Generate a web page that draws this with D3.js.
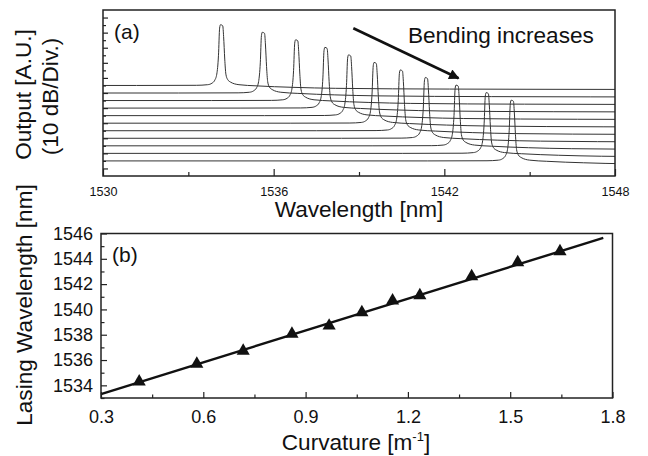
<!DOCTYPE html>
<html>
<head>
<meta charset="utf-8">
<script src="https://cdn.jsdelivr.net/npm/d3@7"></script>
<style>
  html, body { margin: 0; padding: 0; background: #fff; }
  svg { display: block; font-family: "Liberation Sans", Arial, sans-serif; }
  .tick line { stroke: #222; stroke-width: 1.2; }
  .tick text { fill: #111; }
</style>
</head>
<body>
<svg id="chart" width="648" height="456"></svg>
<script>
// ---- panel (a): spectra ----
const peakWavelengths = [1534.18, 1535.65, 1536.82, 1537.85, 1538.68, 1539.58, 1540.50, 1541.38, 1542.46, 1543.52, 1544.40];
const traceBaselines = [12, 11, 10, 9, 8, 7, 6, 5, 4, 3, 2]; // in divisions
// lasing peak shape (nm from peak, divisions above baseline)
const profileOffset = [-20, -3, -0.9, -0.5, -0.35, -0.25, -0.18, -0.12, -0.08, -0.05, 0.03, 0.06, 0.1, 0.14, 0.2, 0.3, 0.6, 1.2, 2.5, 4, 8, 15, 20];
const profileLevel  = [0, 0, 0.02, 0.1, 0.3, 0.7, 1.5, 4, 7.6, 8.05, 7.9, 6.5, 3.5, 1.5, 0.8, 0.45, 0.1, -0.05, -0.25, -0.38, -0.48, -0.53, -0.55];
const wavelengthTicks = [1530, 1536, 1542, 1548];
const wavelengthMinor = [1533, 1539, 1545];

// ---- panel (b): lasing wavelength vs curvature ----
const curvature = [0.412, 0.581, 0.717, 0.860, 0.969, 1.065, 1.155, 1.235, 1.387, 1.522, 1.646];
const lasingWavelength = [1534.29, 1535.69, 1536.72, 1538.07, 1538.71, 1539.76, 1540.69, 1541.11, 1542.61, 1543.72, 1544.59];
const fitCurvature = [0.3, 1.773];
const fitWavelength = [1533.31, 1545.65];
const curvatureTicks = [0.3, 0.6, 0.9, 1.2, 1.5, 1.8];
const curvatureMinor = [0.45, 0.75, 1.05, 1.35, 1.65];
const lasingTicks = [1534, 1536, 1538, 1540, 1542, 1544, 1546];
const lasingMinor = [1533, 1535, 1537, 1539, 1541, 1543, 1545];

const svg = d3.select('#chart');
svg.append('rect').attr('width', 648).attr('height', 456).attr('fill', '#fff');

// ===== Panel (a) =====
const ax = { left: 103, right: 615, top: 10, bottom: 176 };
const xA = d3.scaleLinear().domain([1530, 1548]).range([ax.left, ax.right]);
const yA = d3.scaleLinear().domain([0, 22]).range([ax.bottom, ax.top]);

svg.append('clipPath').attr('id', 'clipA')
  .append('rect').attr('x', ax.left).attr('y', ax.top)
  .attr('width', ax.right - ax.left).attr('height', ax.bottom - ax.top);

const traceLine = d3.line()
  .x(d => xA(d[0]))
  .y(d => yA(d[1]))
  .curve(d3.curveMonotoneX);

const gTraces = svg.append('g').attr('clip-path', 'url(#clipA)');
peakWavelengths.forEach((p, i) => {
  const pts = profileOffset.map((o, k) => [p + o, traceBaselines[i] + profileLevel[k]]);
  gTraces.append('path')
    .attr('d', traceLine(pts))
    .attr('fill', 'none')
    .attr('stroke', '#333')
    .attr('stroke-width', 1);
});

// x axis (a)
svg.append('g').attr('transform', `translate(0,${ax.bottom})`)
  .call(d3.axisBottom(xA).tickValues(wavelengthTicks).tickSize(-7).tickPadding(11).tickFormat(d3.format('d')))
  .call(g => g.select('.domain').remove())
  .call(g => g.selectAll('text').attr('font-size', 12.6).attr('font-family', '"Liberation Sans", Arial, sans-serif'));
svg.append('g').attr('transform', `translate(0,${ax.bottom})`)
  .call(d3.axisBottom(xA).tickValues(wavelengthMinor).tickSize(-4).tickFormat(''))
  .call(g => g.select('.domain').remove());

// y axis (a): division ticks, no labels
const divTicks = d3.range(1, 22);
svg.append('g').attr('transform', `translate(${ax.left},0)`)
  .call(d3.axisLeft(yA).tickValues(divTicks.filter(d => d % 2 === 1)).tickSize(-5).tickFormat(''))
  .call(g => g.select('.domain').remove());
svg.append('g').attr('transform', `translate(${ax.left},0)`)
  .call(d3.axisLeft(yA).tickValues(divTicks.filter(d => d % 2 === 0)).tickSize(-3).tickFormat(''))
  .call(g => g.select('.domain').remove());

svg.append('rect')
  .attr('x', ax.left).attr('y', ax.top)
  .attr('width', ax.right - ax.left).attr('height', ax.bottom - ax.top)
  .attr('fill', 'none').attr('stroke', '#222').attr('stroke-width', 1.5);

// labels (a)
svg.append('text').attr('x', 114).attr('y', 39).attr('font-size', 21).attr('fill', '#111').text('(a)');
svg.append('text').attr('x', 359).attr('y', 217).attr('text-anchor', 'middle')
  .attr('font-size', 22.6).attr('fill', '#111').text('Wavelength [nm]');
svg.append('text').attr('transform', 'translate(31,94.5) rotate(-90)').attr('text-anchor', 'middle')
  .attr('font-size', 22.6).attr('fill', '#111').text('Output [A.U.]');
svg.append('text').attr('transform', 'translate(58,96.5) rotate(-90)').attr('text-anchor', 'middle')
  .attr('font-size', 22.6).attr('fill', '#111').text('(10 dB/Div.)');

// annotation arrow
svg.append('defs').append('marker')
  .attr('id', 'arrowHead').attr('viewBox', '0 0 10 10')
  .attr('refX', 9).attr('refY', 5)
  .attr('markerWidth', 5).attr('markerHeight', 4)
  .attr('orient', 'auto').attr('markerUnits', 'strokeWidth')
  .append('path').attr('d', 'M0,0 L10,5 L0,10 Z').attr('fill', '#111');
svg.append('line')
  .attr('x1', xA(1538.80)).attr('y1', yA(19.58))
  .attr('x2', xA(1542.50)).attr('y2', yA(12.95))
  .attr('stroke', '#111').attr('stroke-width', 2.6)
  .attr('marker-end', 'url(#arrowHead)');
svg.append('text').attr('x', xA(1540.72)).attr('y', 43.3)
  .attr('font-size', 22.6).attr('fill', '#111').text('Bending increases');

// ===== Panel (b) =====
const bx = { left: 101, right: 612.5, top: 233.5, bottom: 398 };
const xB = d3.scaleLinear().domain([0.3, 1.8]).range([bx.left, bx.right]);
const yB = d3.scaleLinear().domain([1533, 1546]).range([bx.bottom, bx.top]);

const fontB = g => g.selectAll('text').attr('font-size', 18).attr('font-family', '"Liberation Sans", Arial, sans-serif');

svg.append('g').attr('transform', `translate(0,${bx.bottom})`)
  .call(d3.axisBottom(xB).tickValues(curvatureTicks).tickSize(-6).tickPadding(12).tickFormat(d3.format('.1f')))
  .call(g => g.select('.domain').remove()).call(fontB);
svg.append('g').attr('transform', `translate(0,${bx.bottom})`)
  .call(d3.axisBottom(xB).tickValues(curvatureMinor).tickSize(-3.5).tickFormat(''))
  .call(g => g.select('.domain').remove());
svg.append('g').attr('transform', `translate(${bx.left},0)`)
  .call(d3.axisLeft(yB).tickValues(lasingTicks).tickSize(-6).tickPadding(8).tickFormat(d3.format('d')))
  .call(g => g.select('.domain').remove()).call(fontB);
svg.append('g').attr('transform', `translate(${bx.left},0)`)
  .call(d3.axisLeft(yB).tickValues(lasingMinor).tickSize(-3.5).tickFormat(''))
  .call(g => g.select('.domain').remove());

// fit line
svg.append('path')
  .attr('d', d3.line().x(d => xB(d[0])).y(d => yB(d[1]))(fitCurvature.map((c, i) => [c, fitWavelength[i]])))
  .attr('fill', 'none').attr('stroke', '#111').attr('stroke-width', 2.4);

// triangles
svg.append('g').selectAll('path')
  .data(curvature.map((c, i) => [c, lasingWavelength[i]]))
  .join('path')
  .attr('transform', d => `translate(${xB(d[0])},${yB(d[1])})`)
  .attr('d', d3.symbol().type(d3.symbolTriangle).size(75))
  .attr('fill', '#111');

svg.append('rect')
  .attr('x', bx.left).attr('y', bx.top)
  .attr('width', bx.right - bx.left).attr('height', bx.bottom - bx.top)
  .attr('fill', 'none').attr('stroke', '#222').attr('stroke-width', 1.5);

svg.append('text').attr('x', 112).attr('y', 262).attr('font-size', 21).attr('fill', '#111').text('(b)');
const curvTitle = svg.append('text').attr('x', 356).attr('y', 450).attr('text-anchor', 'middle')
  .attr('font-size', 22.6).attr('fill', '#111');
curvTitle.append('tspan').text('Curvature [m');
curvTitle.append('tspan').attr('dy', -9).attr('font-size', 13).text('-1');
curvTitle.append('tspan').attr('dy', 9).text(']');
svg.append('text').attr('transform', 'translate(32,305) rotate(-90)').attr('text-anchor', 'middle')
  .attr('font-size', 22.6).attr('fill', '#111').text('Lasing Wavelength [nm]');
</script>
</body>
</html>
